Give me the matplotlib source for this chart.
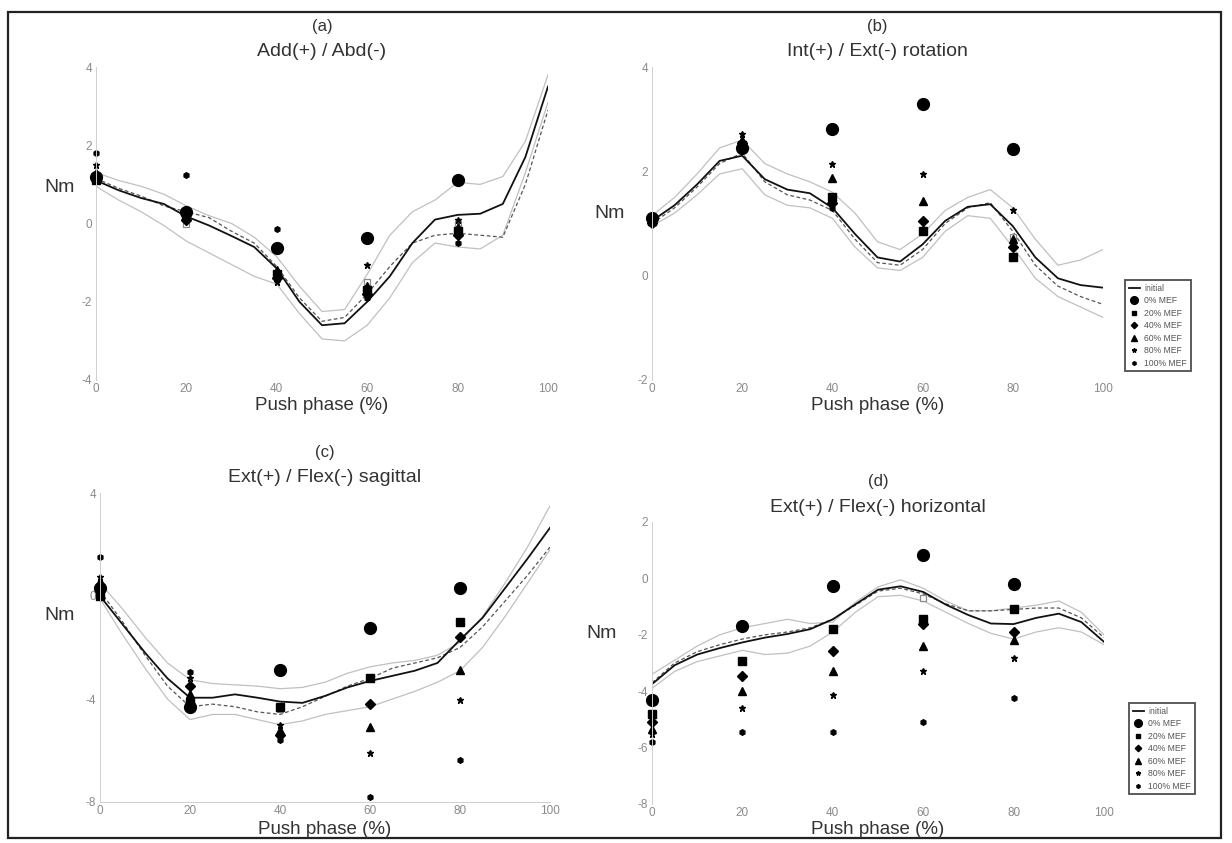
import numpy as np
import matplotlib
matplotlib.use("Agg")
import matplotlib.pyplot as plt
from matplotlib.patches import Rectangle

plt.rcParams['font.family'] = ['Liberation Sans', 'DejaVu Sans']
plt.rcParams['axes.unicode_minus'] = False

W, H = 1232, 843

phase = [0, 5, 10, 15, 20, 25, 30, 35, 40, 45, 50, 55, 60, 65, 70, 75, 80, 85, 90, 95, 100]
mef_x = [0, 20, 40, 60, 80]
levels = ['0% MEF', '20% MEF', '40% MEF', '60% MEF', '80% MEF', '100% MEF']

# (a) Add(+) / Abd(-)
a_initial = [1.1, 0.85, 0.65, 0.5, 0.18, -0.05, -0.32, -0.6, -1.15, -2.0, -2.6, -2.55,
             -2.0, -1.35, -0.5, 0.1, 0.22, 0.25, 0.5, 1.7, 3.5]
a_dashed = [1.15, 0.9, 0.7, 0.45, 0.3, 0.15, -0.2, -0.5, -1.1, -1.9, -2.5, -2.4,
            -1.8, -1.1, -0.5, -0.3, -0.25, -0.3, -0.35, 1.0, 2.9]
a_upper = [1.3, 1.1, 0.95, 0.75, 0.45, 0.2, 0.0, -0.35, -0.85, -1.6, -2.25, -2.2,
           -1.3, -0.3, 0.3, 0.6, 1.05, 1.0, 1.2, 2.1, 3.8]
a_lower = [0.95, 0.6, 0.3, -0.05, -0.45, -0.75, -1.05, -1.35, -1.55, -2.3, -2.95, -3.0,
           -2.6, -1.9, -1.0, -0.5, -0.6, -0.65, -0.3, 1.3, 3.1]
a_open = [1.1, 0.0, -1.3, -1.5, 0.0]
a_mef = [[1.2, 0.3, -0.63, -0.38, 1.12],
         [1.1, 0.2, -1.3, -1.7, -0.2],
         [1.2, 0.1, -1.4, -1.8, -0.3],
         [1.3, 0.25, -1.2, -1.6, -0.1],
         [1.5, 0.35, -1.5, -1.05, 0.1],
         [1.8, 1.25, -0.15, -1.9, -0.5]]

# (b) Int(+) / Ext(-) rotation
b_initial = [1.05, 1.35, 1.75, 2.2, 2.3, 1.85, 1.65, 1.58, 1.3, 0.8, 0.35, 0.27,
             0.6, 1.05, 1.32, 1.37, 0.95, 0.35, -0.05, -0.18, -0.23]
b_dashed = [1.0, 1.3, 1.7, 2.15, 2.35, 1.8, 1.55, 1.45, 1.25, 0.7, 0.25, 0.2,
            0.5, 1.0, 1.3, 1.4, 0.85, 0.2, -0.2, -0.4, -0.55]
b_upper = [1.15, 1.5, 1.95, 2.45, 2.6, 2.15, 1.95, 1.8, 1.6, 1.2, 0.65, 0.5,
           0.8, 1.25, 1.5, 1.65, 1.3, 0.7, 0.2, 0.3, 0.5]
b_lower = [0.95, 1.2, 1.55, 1.95, 2.05, 1.55, 1.35, 1.3, 1.1, 0.55, 0.15, 0.1,
           0.35, 0.85, 1.15, 1.1, 0.55, -0.05, -0.4, -0.6, -0.8]
b_open = [1.0, 2.45, 1.45, 0.85, 0.75]
b_mef = [[1.1, 2.45, 2.82, 3.3, 2.43],
         [1.05, 2.5, 1.5, 0.86, 0.35],
         [1.0, 2.55, 1.4, 1.05, 0.55],
         [1.05, 2.6, 1.88, 1.44, 0.7],
         [1.1, 2.72, 2.15, 1.95, 1.25],
         [1.0, 2.4, 1.3, 0.9, 0.6]]

# (c) Ext(+) / Flex(-) sagittal
c_initial = [0.0, -1.1, -2.2, -3.2, -3.95, -3.95, -3.82, -3.95, -4.1, -4.15, -3.88, -3.55,
             -3.3, -3.1, -2.9, -2.6, -1.7, -0.85, 0.3, 1.45, 2.65]
c_dashed = [0.2, -1.0, -2.3, -3.5, -4.3, -4.2, -4.3, -4.5, -4.6, -4.3, -3.9, -3.5,
            -3.2, -2.8, -2.6, -2.4, -2.0, -1.2, -0.2, 0.8, 1.9]
c_upper = [0.5, -0.5, -1.6, -2.6, -3.25, -3.4, -3.45, -3.5, -3.6, -3.55, -3.35, -3.0,
           -2.75, -2.6, -2.5, -2.3, -1.8, -0.8, 0.5, 1.9, 3.5]
c_lower = [-0.1, -1.5, -2.8, -4.0, -4.8, -4.6, -4.6, -4.8, -5.0, -4.85, -4.6, -4.45,
           -4.3, -4.0, -3.7, -3.35, -2.9, -2.0, -0.8, 0.5, 1.8]
c_open = [0.1, -4.3, -4.4, -3.2, np.nan]
c_mef = [[0.3, -4.3, -2.87, -1.24, 0.31],
         [0.0, -4.1, -4.3, -3.2, -1.0],
         [0.4, -3.5, -5.4, -4.2, -1.6],
         [0.6, -3.8, -5.2, -5.1, -2.87],
         [0.75, -3.2, -5.0, -6.1, -4.03],
         [1.5, -2.95, -5.6, -7.8, -6.36]]

# (d) Ext(+) / Flex(-) horizontal
d_initial = [-3.75, -3.08, -2.7, -2.47, -2.27, -2.1, -1.97, -1.8, -1.45, -0.92, -0.4, -0.28,
             -0.48, -0.93, -1.3, -1.6, -1.62, -1.4, -1.25, -1.55, -2.25]
d_dashed = [-3.7, -3.0, -2.6, -2.35, -2.15, -2.0, -1.9, -1.75, -1.45, -0.95, -0.45, -0.35,
            -0.55, -0.9, -1.15, -1.15, -1.1, -1.05, -1.05, -1.4, -2.1]
d_upper = [-3.4, -2.9, -2.4, -2.0, -1.75, -1.6, -1.45, -1.6, -1.55, -0.85, -0.3, -0.05,
           -0.35, -0.8, -1.15, -1.15, -1.05, -0.95, -0.8, -1.2, -2.0]
d_lower = [-3.9, -3.3, -2.95, -2.75, -2.55, -2.7, -2.65, -2.4, -1.9, -1.2, -0.65, -0.6,
           -0.8, -1.2, -1.6, -1.95, -2.15, -1.9, -1.75, -1.9, -2.35]
d_open = [np.nan, np.nan, np.nan, -0.7, -1.08]
d_mef = [[-4.3, -1.68, -0.28, 0.84, -0.21],
         [-4.8, -2.94, -1.78, -1.45, -1.08],
         [-5.1, -3.46, -2.59, -1.6, -1.9],
         [-5.35, -3.99, -3.29, -2.41, -2.2],
         [-5.5, -4.58, -4.13, -3.29, -2.83],
         [-5.8, -5.45, -5.45, -5.1, -4.23]]

markers = ['o', 's', 'D', '^', '*', 'h']
msizes = [8.5, 5.5, 5, 6, 5, 4]

txt = '#333333'
tick_c = '#8a8a8a'


def fx(px):
    return px / W


def fy(py):
    return 1 - py / H


fig = plt.figure(figsize=(W / 100, H / 100), dpi=100)
fig.patch.set_facecolor('white')
fig.add_artist(Rectangle((fx(8), fy(838)), fx(1221) - fx(8), fy(12) - fy(838),
                         transform=fig.transFigure, fill=False, edgecolor='#222222', lw=1.6))

panels = [
    # (box px: left, top, right, bottom), ylim, yticks, data, letter, title, title y,
    # xlabel y, Nm pos, legend top-left
    ((96, 67, 548, 380), (-4, 4), [-4, -2, 0, 2, 4],
     (a_initial, a_dashed, a_upper, a_lower, a_open, a_mef),
     '(a)', 'Add(+) / Abd(-)', 26, 405, (60, 188), None),
    ((652, 67, 1103, 380), (-2, 4), [-2, 0, 2, 4],
     (b_initial, b_dashed, b_upper, b_lower, b_open, b_mef),
     '(b)', 'Int(+) / Ext(-) rotation', 26, 405, (610, 213), (1125, 280)),
    ((100, 493, 550, 802), (-8, 4), [-8, -4, 0, 4],
     (c_initial, c_dashed, c_upper, c_lower, c_open, c_mef),
     '(c)', 'Ext(+) / Flex(-) sagittal', 452, 830, (60, 615), None),
    ((652, 522, 1104, 804), (-8, 2), [-8, -6, -4, -2, 0, 2],
     (d_initial, d_dashed, d_upper, d_lower, d_open, d_mef),
     '(d)', 'Ext(+) / Flex(-) horizontal', 481, 830, (602, 634), (1129, 703)),
]

for box, ylim, yticks, data, letter, title, ty, xly, nm, leg_pos in panels:
    l, t, r, b = box
    ax = fig.add_axes([fx(l), fy(b), fx(r) - fx(l), fy(t) - fy(b)])
    initial, dashed, upper, lower, open_pts, mef = data

    ax.plot(phase, upper, color='#c0c0c0', lw=0.9)
    ax.plot(phase, lower, color='#c0c0c0', lw=0.9)
    ax.plot(phase, dashed, color='#555555', lw=0.9, ls=(0, (3, 2)))
    ax.plot(phase, initial, color='#111111', lw=1.3, label='initial')
    ax.plot(mef_x, open_pts, ls='none', marker='s', ms=5, mfc='white',
            mec='#8a8a8a', mew=0.9, clip_on=False)
    for vals, lab, mk, ms in zip(mef, levels, markers, msizes):
        ax.plot(mef_x, vals, ls='none', marker=mk, ms=ms, color='black', label=lab,
                clip_on=False)

    ax.set_xlim(0, 100)
    ax.set_ylim(*ylim)
    ax.set_xticks([0, 20, 40, 60, 80, 100])
    ax.set_yticks(yticks)
    ax.tick_params(length=0, labelsize=8.5, labelcolor=tick_c, pad=3)
    ax.tick_params(axis='x', pad=2)
    for s in ['top', 'right', 'bottom']:
        ax.spines[s].set_visible(False)
    ax.spines['left'].set_color('#cfcfcf')
    ax.spines['left'].set_linewidth(0.7)
    if letter == '(c)':
        ax.spines['bottom'].set_visible(True)
        ax.spines['bottom'].set_color('#cfcfcf')
        ax.spines['bottom'].set_linewidth(0.7)
    ax.patch.set_alpha(0)

    cx = (l + r) / 2
    fig.text(fx(cx), fy(ty), letter, ha='center', va='center', fontsize=12, color=txt)
    fig.text(fx(cx), fy(ty + 26), title, ha='center', va='center', fontsize=14, color=txt)
    fig.text(fx(cx), fy(xly), 'Push phase (%)', ha='center', va='center',
             fontsize=13.5, color=txt)
    fig.text(fx(nm[0]), fy(nm[1]), 'Nm', ha='center', va='center', fontsize=14, color=txt)

    if leg_pos is not None:
        leg = ax.legend(loc='upper left', bbox_to_anchor=(fx(leg_pos[0]), fy(leg_pos[1])),
                        bbox_transform=fig.transFigure, borderaxespad=0,
                        fontsize=6.2, frameon=True, fancybox=False, edgecolor='#222222',
                        handlelength=1.3, handletextpad=0.5, labelspacing=0.4,
                        borderpad=0.45, markerscale=0.65)
        leg.get_frame().set_linewidth(1.3)
        for tx in leg.get_texts():
            tx.set_color('#555555')

fig.savefig('out.png', dpi=100)
